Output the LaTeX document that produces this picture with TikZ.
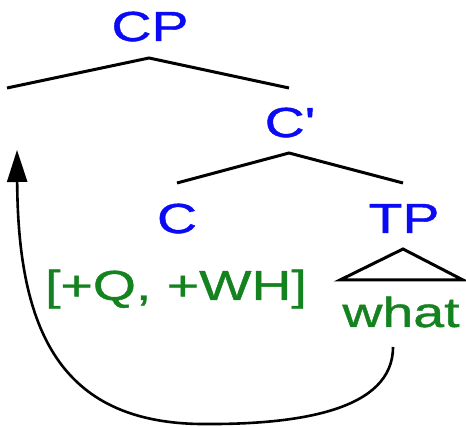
\documentclass[tikz,border=0pt]{standalone}
\usepackage{fontspec}
\setmainfont{Liberation Sans}[FakeStretch=1.32,FakeBold=1,Ligatures=TeXOff]
\usetikzlibrary{arrows.meta}
\definecolor{labblue}{RGB}{10,10,245}
\definecolor{featgreen}{RGB}{20,130,30}
\tikzset{
  cat/.style={text=labblue, font=\fontsize{42}{42}\selectfont, inner sep=0pt, anchor=base},
  feat/.style={text=featgreen, font=\fontsize{42}{42}\selectfont, inner sep=0pt, anchor=base},
  branch/.style={line width=3pt, line join=miter},
  move/.style={line width=2.6pt, -{Triangle[length=32pt,width=20pt]}}
}
\begin{document}
\begin{tikzpicture}[x=1pt,y=-1pt]
\useasboundingbox (0,0) rectangle (466,427);
% category labels
\node[cat] (cp) at (150,41) {CP};
\node[cat] (cbar) at (290,137) {C'};
\node[cat] (c) at (177,233) {C};
\node[cat] (tp) at (404,233) {TP};
\node[feat] (feat) at (176,300) {[+Q, +WH]};
\node[feat] (what) at (401,327) {what};
% branch points
\coordinate (cpA) at (149,58);
\coordinate (spec) at (7,88);
\coordinate (cbarT) at (289,88);
\coordinate (cbarA) at (289,153);
\coordinate (cT) at (177,183);
\coordinate (tpT) at (403,183);
\coordinate (triA) at (403,249);
\coordinate (triL) at (340,280);
\coordinate (triR) at (463,280);
\coordinate (moveS) at (393,347);
\coordinate (moveE) at (17,150);
% tree
\draw[branch] (spec) -- (cpA) -- (cbarT);
\draw[branch] (cT) -- (cbarA) -- (tpT);
\draw[branch] (triL) -- (triA) -- (triR) -- cycle;
% movement arrow
\draw[move] (moveS) .. controls (393,410) and (300,425) .. (200,424)
  .. controls (60,422) and (18,330) .. (moveE);
\end{tikzpicture}
\end{document}
